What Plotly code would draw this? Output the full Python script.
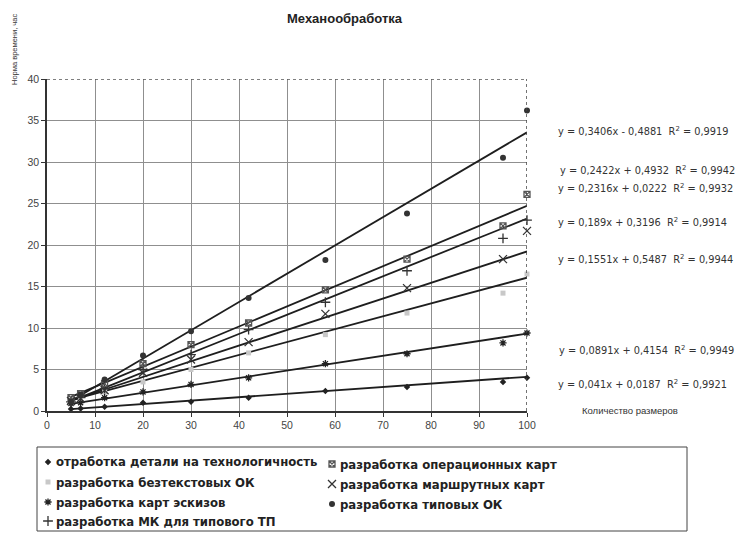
import plotly.graph_objects as go

# ---------------- data ----------------
x_sizes = [5, 7, 12, 20, 30, 42, 58, 75, 95, 100]

series_names = [
    "отработка детали на технологичность",
    "разработка безтекстовых ОК",
    "разработка карт эскизов",
    "разработка МК для типового ТП",
    "разработка операционных карт",
    "разработка маршрутных карт",
    "разработка типовых ОК",
]

y_tech = [0.25, 0.3, 0.5, 1.0, 1.1, 1.6, 2.4, 2.9, 3.5, 4.0]
y_beztext = [1.3, 1.6, 2.3, 3.5, 5.0, 7.0, 9.2, 11.8, 14.2, 16.5]
y_eskiz = [0.9, 1.0, 1.6, 2.3, 3.2, 4.0, 5.7, 6.9, 8.2, 9.4]
y_mk = [1.1, 1.6, 2.7, 5.0, 6.8, 9.8, 13.1, 16.9, 20.8, 23.0]
y_oper = [1.6, 2.1, 3.3, 5.7, 8.0, 10.6, 14.6, 18.3, 22.3, 26.1]
y_marsh = [1.2, 1.5, 2.5, 4.6, 6.2, 8.3, 11.7, 14.8, 18.3, 21.7]
y_tipov = [1.1, 2.0, 3.8, 6.7, 9.6, 13.6, 18.2, 23.8, 30.5, 36.2]

# trendline coefficients as printed on the chart
slopes = [0.041, 0.1551, 0.0891, 0.2316, 0.2422, 0.189, 0.3406]
intercepts = [0.0187, 0.5487, 0.4154, 0.0222, 0.4932, 0.3196, -0.4881]
r_squared = [0.9921, 0.9944, 0.9949, 0.9932, 0.9942, 0.9914, 0.9919]

x_ticks = [0, 10, 20, 30, 40, 50, 60, 70, 80, 90, 100]
y_ticks = [0, 5, 10, 15, 20, 25, 30, 35, 40]

all_y = [y_tech, y_beztext, y_eskiz, y_mk, y_oper, y_marsh, y_tipov]

# ---------------- styling ----------------
OFF = 8                                  # page body margin of the browser
W, H = 748 - 2 * OFF, 542 - 2 * OFF      # figure size (no page overflow)
PL, PR, PT, PB = 47, 527, 79, 411        # plot area in window pixels


def pxx(x):
    return (x - OFF) / W


def pxy(y):
    return (H - (y - OFF)) / H


markers = [
    dict(symbol="diamond", size=5, color="#222", line=dict(width=0)),
    dict(symbol="square", size=5, color="#c8c8c8", line=dict(width=0)),
    dict(symbol="asterisk-open", size=6, color="#222", line=dict(width=1.3, color="#222")),
    dict(symbol="cross-thin-open", size=7, color="#333", line=dict(width=1.3, color="#333")),
    dict(symbol="square-x-open", size=6, color="#555", line=dict(width=1.3, color="#555")),
    dict(symbol="x-thin-open", size=8, color="#333", line=dict(width=1.3, color="#333")),
    dict(symbol="circle", size=6, color="#333", line=dict(width=0)),
]

# equation label pixel positions (x, y)
eq_pos = [(556, 131), (558, 170), (556, 188), (556, 222), (556, 259), (557, 350), (556, 384)]
eq_order = [6, 4, 3, 5, 1, 2, 0]

# legend pixel positions (marker x, text x, y)
leg_pos = [
    (48, 56, 462), (48, 56, 482), (48, 56, 502), (48, 56, 521),
    (332, 340, 464), (332, 340, 484), (332, 340, 504),
]

fig = go.Figure()

# trendlines
for s, b in zip(slopes, intercepts):
    xs = [min(x_sizes), max(x_sizes)]
    fig.add_trace(go.Scatter(
        x=xs, y=[s * v + b for v in xs], mode="lines",
        line=dict(color="#1e1e1e", width=1.8), showlegend=False, hoverinfo="skip"))

# data points
for name, ys, mk in zip(series_names, all_y, markers):
    fig.add_trace(go.Scatter(x=x_sizes, y=ys, mode="markers", name=name,
                             marker=mk, showlegend=False, cliponaxis=False))

# manual legend markers on a full-figure pixel axis
for (mx, tx, my), mk in zip(leg_pos, markers):
    fig.add_trace(go.Scatter(x=[mx - OFF], y=[my - OFF], mode="markers", marker=mk,
                             xaxis="x2", yaxis="y2", cliponaxis=False,
                             showlegend=False, hoverinfo="skip"))

annotations = []


def fmt(v):
    return str(abs(v)).replace(".", ",")


for (ex, ey), k in zip(eq_pos, eq_order):
    s, b, r2 = slopes[k], intercepts[k], r_squared[k]
    sign = "-" if b < 0 else "+"
    txt = f"y = {fmt(s)}x {sign} {fmt(b)}  R<sup>2</sup> = {fmt(r2)}"
    annotations.append(dict(x=pxx(ex), y=pxy(ey), xref="paper", yref="paper",
                            text=txt, showarrow=False, xanchor="left", yanchor="middle",
                            font=dict(family="DejaVu Sans, Liberation Sans", size=9.8, color="#333")))

for name, (mx, tx, my) in zip(series_names, leg_pos):
    annotations.append(dict(x=pxx(tx - 2), y=pxy(my), xref="paper", yref="paper",
                            text=f"<b>{name}</b>", showarrow=False, xanchor="left", yanchor="middle",
                            font=dict(family="Liberation Sans Narrow, Arial Narrow, DejaVu Sans Condensed",
                                      size=13, color="#222")))

annotations.append(dict(x=pxx(345), y=pxy(18), xref="paper", yref="paper",
                        text="<b>Механообработка</b>", showarrow=False,
                        xanchor="center", yanchor="middle",
                        font=dict(family="Liberation Sans, Arial", size=13, color="#222")))
annotations.append(dict(x=pxx(14), y=pxy(50), xref="paper", yref="paper",
                        text="Норма времени, час", showarrow=False, textangle=-90,
                        xanchor="center", yanchor="middle",
                        font=dict(family="Liberation Sans, Arial", size=7.5, color="#333")))
annotations.append(dict(x=pxx(630), y=pxy(410), xref="paper", yref="paper",
                        text="Количество размеров", showarrow=False,
                        xanchor="center", yanchor="middle",
                        font=dict(family="Liberation Sans, Arial", size=9.5, color="#333")))

shapes = [
    # legend box
    dict(type="rect", xref="paper", yref="paper", x0=pxx(37), x1=pxx(687),
         y0=pxy(531), y1=pxy(447), line=dict(color="#444", width=1)),
    # dotted right and top frame
    dict(type="line", xref="x", yref="y", x0=100, x1=100, y0=0, y1=40,
         line=dict(color="#444", width=1.5, dash="dot")),
    dict(type="line", xref="x", yref="y", x0=0, x1=100, y0=40, y1=40,
         line=dict(color="#555", width=1.3, dash="dot")),
]

tick_font = dict(family="Liberation Sans, Arial", size=10.5, color="#444")

fig.update_layout(
    width=W, height=H,
    margin=dict(l=0, r=0, t=0, b=0, autoexpand=False),
    paper_bgcolor="white", plot_bgcolor="rgba(0,0,0,0)",
    showlegend=False,
    annotations=annotations, shapes=shapes,
    xaxis=dict(domain=[pxx(PL), pxx(PR)], anchor="y", automargin=False,
               range=[0, 100], tickvals=x_ticks, showgrid=True, gridcolor="#8f8f8f", gridwidth=1,
               zeroline=False, showline=True, linecolor="#333", linewidth=1.5,
               ticks="outside", ticklen=4, tickcolor="#333", tickfont=tick_font),
    yaxis=dict(domain=[pxy(PB), pxy(PT)], anchor="x", automargin=False,
               range=[0, 40], tickvals=y_ticks, showgrid=True, gridcolor="#8f8f8f", gridwidth=1,
               zeroline=False, showline=True, linecolor="#333", linewidth=1.5,
               ticks="outside", ticklen=4, tickcolor="#333", tickfont=tick_font),
    xaxis2=dict(domain=[0, 1], anchor="y2", range=[0, W], visible=False, fixedrange=True),
    yaxis2=dict(domain=[0, 1], anchor="x2", range=[H, 0], visible=False, fixedrange=True),
)

fig.write_html("out.html")
